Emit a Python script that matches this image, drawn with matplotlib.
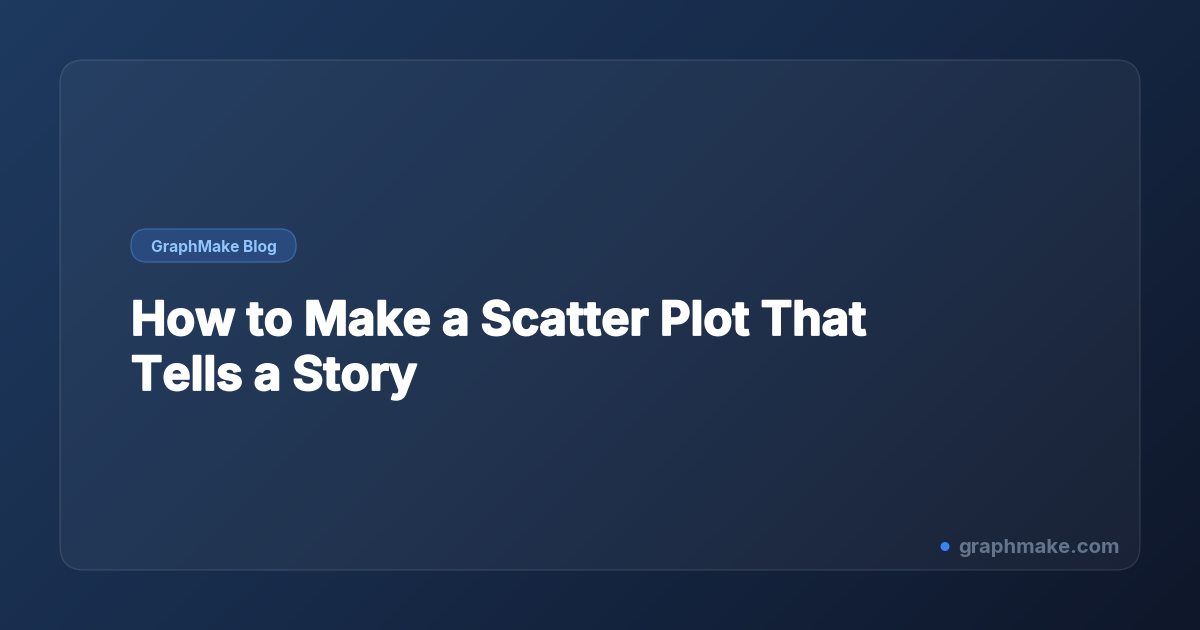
import numpy as np
import matplotlib
matplotlib.use('Agg')
import matplotlib.pyplot as plt
import matplotlib.patheffects as pe
from matplotlib.patches import FancyBboxPatch, Circle
from matplotlib.colors import LinearSegmentedColormap

badge_text = 'GraphMake Blog'
title_lines = ['How to Make a Scatter Plot That', 'Tells a Story']
site_text = 'graphmake.com'

W, H = 1200, 630
fig = plt.figure(figsize=(12, 6.3), dpi=100)
ax = fig.add_axes([0, 0, 1, 1])
ax.set_xlim(0, W)
ax.set_ylim(H, 0)
ax.axis('off')

# diagonal background gradient
xx, yy = np.meshgrid(np.linspace(0, 1, 300), np.linspace(0, 1, 160))
t = (xx * W + yy * H) / (W + H)
cmap = LinearSegmentedColormap.from_list('bg', ['#1e3a5f', '#172a48', '#0f172a'])
ax.imshow(t, cmap=cmap, extent=[0, W, H, 0], aspect='auto', zorder=0)

# card
card = FancyBboxPatch((60, 60), 1080, 510, boxstyle='round,pad=0,rounding_size=24',
                      facecolor=(1, 1, 1, 0.045), edgecolor=(1, 1, 1, 0.11), linewidth=1, zorder=1)
ax.add_patch(card)

# badge
badge = FancyBboxPatch((131, 229), 165, 33, boxstyle='round,pad=0,rounding_size=16.5',
                       facecolor='#284a7c', edgecolor='#3a66a3', linewidth=1, zorder=2)
ax.add_patch(badge)
ax.text(213.5, 246, badge_text, color='#93c5fd', fontsize=11.2, fontweight='bold',
        family=['Inter', 'DejaVu Sans'], ha='center', va='center_baseline', zorder=3)

# title
for i, line in enumerate(title_lines):
    ax.text(131, 335 + 55 * i, line, color='white', fontsize=34, fontweight='bold',
            family=['Inter', 'DejaVu Sans'], ha='left', va='baseline', zorder=3,
            path_effects=[pe.withStroke(linewidth=1.3, foreground='white')])

# footer
ax.add_patch(Circle((945, 546.5), 3.8, color='#3b82f6', zorder=3))
ax.text(1120, 553, site_text, color='#64748b', fontsize=14.6, fontweight='bold',
        family=['Inter', 'DejaVu Sans'], ha='right', va='baseline', zorder=3)

fig.savefig('out.png', dpi=100)
